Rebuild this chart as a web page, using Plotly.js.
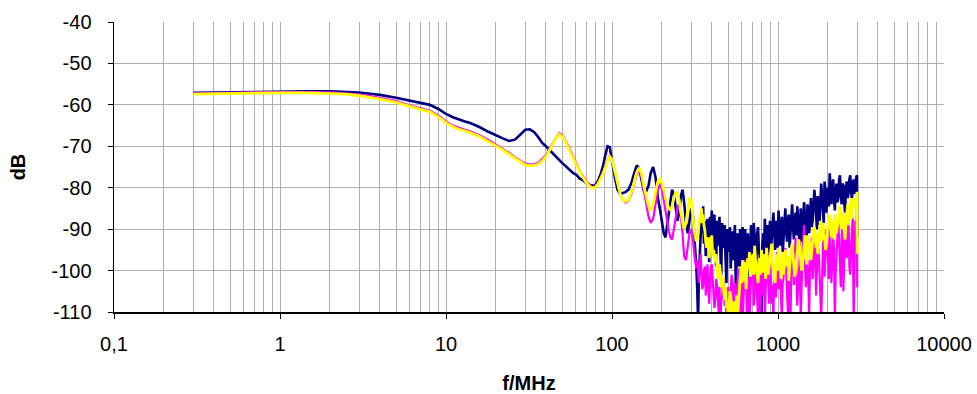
<!DOCTYPE html>
<html>
<head>
<meta charset="utf-8">
<script src="https://cdn.plot.ly/plotly-3.0.1.min.js"></script>
<style>
html,body{margin:0;padding:0;background:#fff;}
#chart{width:977px;height:394px;}
</style>
</head>
<body>
<div id="chart"></div>
<script>
// Frequencies (MHz), shared by all three series
const freqMHz = [
  0.3, 0.4, 0.5, 0.7, 1, 1.5, 2, 2.5, 3, 3.5, 4, 5, 6, 7, 8, 9, 10, 11, 12, 13, 14, 16, 18, 20, 22, 24, 26, 28, 30, 32, 34, 36, 38, 40, 42, 44, 46, 48, 50, 52, 55, 58, 61, 64, 67, 70, 73, 76, 79, 82, 85, 88, 91, 94, 97, 100, 104, 108, 112, 116, 121, 126, 131, 136, 141, 146, 151, 156, 161, 166, 171, 177, 183, 189, 195,
  200, 205, 210, 215, 220, 225, 230, 236, 242, 248, 254, 260, 266, 272, 279, 286, 293, 300, 307, 314,
  322, 326, 330, 334, 338, 342, 346, 350, 354, 358,
  363, 367, 372, 376, 381, 385, 390, 394, 399, 404,
  409, 414, 419, 424, 429, 434, 439, 444, 450, 455,
  461, 466, 472, 477, 483, 489, 495, 501, 507, 513,
  519, 525, 531, 537, 544, 550, 557, 563, 570, 577,
  584, 591, 598, 605, 612, 619, 627, 634, 642, 649,
  657, 665, 673, 681, 689, 697, 706, 714, 723, 731,
  740, 749, 758, 767, 776, 785, 795, 804, 814, 823,
  833, 843, 853, 863, 874, 884, 895, 905, 916, 927,
  938, 949, 961, 972, 984, 995, 1007, 1019, 1031, 1043,
  1056, 1068, 1081, 1094, 1107, 1120, 1134, 1147, 1161, 1175,
  1189, 1203, 1217, 1231, 1246, 1261, 1276, 1291, 1307, 1322,
  1338, 1354, 1370, 1386, 1403, 1420, 1437, 1454, 1471, 1488,
  1506, 1524, 1542, 1560, 1579, 1598, 1617, 1636, 1656, 1676,
  1696, 1716, 1736, 1757, 1778, 1799, 1821, 1842, 1864, 1886,
  1909, 1932, 1955, 1978, 2002, 2025, 2049, 2073, 2098, 2123,
  2149, 2174, 2200, 2226, 2253, 2280, 2307, 2334, 2362, 2390,
  2419, 2448, 2477, 2506, 2536, 2566, 2597, 2628, 2659, 2691,
  2723, 2755, 2788, 2821, 2855, 2889, 2923, 2958, 2993, 3000
];

// Series 1 (navy)
const navyDb = [
  -57.1, -57.0, -57.0, -56.9, -56.8, -56.7, -56.7, -56.8, -57.0, -57.3, -57.6, -58.3, -59.0, -59.5, -60.0, -61.0, -62.2, -63.0, -63.6, -64.0, -64.4, -65.4, -66.5, -67.4, -68.1, -68.7, -68.4, -67.2, -66.0, -65.9, -66.6, -67.8, -69.2, -70.0, -70.9, -71.8, -72.4, -73.3, -74.0, -74.6, -75.5, -76.4, -76.9, -77.8, -78.2, -78.9, -79.3, -79.5, -79.4, -78.5, -77.0, -75.0, -72.3, -70.0, -70.2, -73.5, -77.5, -80.5, -81.5, -81.3, -81.0, -80.4, -78.8, -76.5, -74.6, -75.5, -78.5, -81.0, -80.8, -79.5, -76.5, -75.0, -77.5, -82.5, -85.5,
  -88.0, -91.0, -92.0, -89.0, -85.0, -82.0, -80.5, -81.5, -85.5, -88.0, -86.0, -82.0, -80.5, -83.5, -88.5, -91.0, -88.0, -85.0, -86.5, -92.0,
  -99.0, -104, -112, -101, -96.0, -90.5, -87.0, -91.0, -84.5, -93.5,
  -88.0, -96.5, -93.0, -87.5, -91.0, -98.0, -87.0, -92.5, -85.5, -95.0,
  -90.0, -86.5, -93.5, -99.0, -88.0, -94.0, -91.5, -87.0, -96.0, -101.0,
  -88.5, -94.5, -92.5, -89.0, -97.0, -103.0, -90.0, -95.5, -94.0, -89.5,
  -99.5, -95.0, -90.5, -97.5, -93.5, -89.0, -104.0, -96.5, -91.0, -99.0,
  -96.0, -90.0, -100.5, -93.0, -89.5, -98.5, -94.5, -90.0, -97.0, -103.5,
  -91.0, -95.5, -102.5, -93.0, -89.0, -97.0, -95.0, -88.5, -92.0, -99.5,
  -98.5, -91.0, -89.5, -95.0, -96.5, -103, -112, -94.0, -91.0, -97.5,
  -87.5, -93.0, -95.5, -89.0, -98.0, -92.5, -88.0, -96.0, -93.5, -89.0,
  -86.0, -91.5, -95.0, -88.0, -89.5, -94.5, -85.5, -90.0, -94.0, -89.0,
  -87.0, -95.5, -91.5, -86.0, -85.0, -90.5, -93.0, -88.0, -86.5, -94.5,
  -90.0, -87.0, -84.0, -89.0, -92.5, -88.5, -86.0, -91.5, -84.5, -87.5,
  -91.0, -95.0, -85.0, -88.0, -93.0, -86.5, -83.5, -87.0, -89.5, -93.5,
  -84.0, -86.0, -91.0, -85.5, -82.5, -89.5, -88.0, -84.5, -80.5, -83.0,
  -86.5, -90.0, -82.0, -85.0, -89.0, -83.5, -79.0, -82.0, -84.5, -88.5,
  -78.5, -81.0, -86.0, -83.0, -80.0, -84.5, -76.5, -80.0, -84.0, -79.5,
  -78.0, -82.5, -85.5, -80.5, -79.0, -83.5, -82.5, -78.0, -77.0, -81.5,
  -84.0, -79.0, -79.5, -83.5, -86.0, -80.0, -78.5, -82.5, -81.5, -78.0,
  -77.0, -80.5, -83.0, -79.0, -78.0, -81.5, -80.5, -77.5, -77.0, -92.0
];

// Series 2 (magenta)
const magentaDb = [
  -57.2, -57.2, -57.1, -57.0, -56.9, -56.9, -57.0, -57.2, -57.5, -57.9, -58.3, -59.1, -60.1, -60.8, -61.4, -62.6, -64.0, -65.0, -65.6, -66.0, -66.4, -67.4, -68.5, -69.6, -70.6, -71.6, -72.6, -73.5, -74.2, -74.4, -74.3, -74.0, -73.2, -72.2, -70.6, -69.2, -67.8, -66.8, -67.3, -68.3, -70.2, -72.3, -74.3, -76.0, -77.3, -78.5, -79.3, -79.9, -79.7, -79.0, -77.9, -76.5, -75.0, -73.3, -72.3, -73.0, -75.8, -78.8, -81.5, -83.0, -83.6, -83.0, -81.5, -79.0, -76.8, -75.8, -77.5, -81.0, -84.5, -87.0, -88.5, -87.5, -84.0, -80.5, -79.0,
  -80.5, -83.0, -86.0, -88.5, -90.5, -92.0, -92.5, -90.0, -86.5, -84.5, -84.0, -86.5, -91.0, -96.5, -97.5, -94.0, -91.0, -90.0, -92.5, -96.5,
  -99.5, -97.5, -101.0, -103.0, -98.0, -96.0, -100.5, -104.5, -103.5, -100.0,
  -99.0, -106.0, -101.5, -98.5, -105.0, -108.0, -102.0, -99.0, -98.5, -102.5,
  -104.0, -109.0, -107.0, -102.0, -103.5, -106.5, -110.0, -104.0, -112, -107.5,
  -106.0, -101.5, -103.0, -108.5, -105.5, -112, -109.0, -104.0, -112, -106.5,
  -105.0, -101.0, -102.5, -109.5, -107.5, -103.0, -112, -106.5, -104.0, -99.5,
  -101.0, -110.0, -108.0, -102.5, -112, -105.5, -103.0, -97.5, -99.5, -112,
  -107.0, -101.5, -112, -104.0, -101.5, -96.5, -98.0, -108.5, -105.5, -98.5,
  -100.0, -106.0, -112, -99.5, -103.5, -110.0, -97.0, -101.0, -106.0, -99.5,
  -112, -104.5, -99.0, -95.5, -102.5, -108.0, -96.0, -100.0, -108.0, -103.5,
  -112, -98.5, -100.0, -106.5, -95.5, -99.5, -104.5, -101.0, -98.0, -107.0,
  -112, -103.0, -101.5, -97.5, -94.5, -100.5, -106.5, -110.0, -99.0, -103.5,
  -112, -100.5, -97.0, -95.0, -103.5, -99.0, -92.0, -101.0, -108.5, -104.0,
  -99.5, -96.0, -112, -101.5, -96.5, -92.5, -89.0, -98.0, -104.0, -100.0,
  -97.5, -103.5, -110.0, -99.0, -95.0, -92.0, -102.0, -98.5, -93.0, -96.5,
  -106.0, -100.0, -91.0, -95.5, -99.0, -105.5, -112, -97.5, -94.0, -90.5,
  -101.5, -96.0, -90.0, -93.5, -97.0, -102.0, -88.5, -94.0, -103.0, -97.5,
  -90.5, -95.0, -112, -100.5, -95.5, -91.0, -87.5, -93.0, -99.0, -104.0,
  -92.0, -88.5, -105.0, -97.0, -89.0, -94.0, -97.0, -91.5, -86.5, -99.0,
  -101.0, -94.5, -91.0, -87.0, -112, -96.0, -88.0, -92.0, -85.5, -104.0
];

// Series 3 (yellow)
const yellowDb = [
  -57.4, -57.3, -57.3, -57.2, -57.1, -57.1, -57.2, -57.4, -57.8, -58.2, -58.6, -59.4, -60.4, -61.1, -61.7, -62.9, -64.3, -65.3, -65.9, -66.3, -66.7, -67.7, -68.8, -69.9, -70.9, -71.9, -72.9, -73.8, -74.5, -74.7, -74.6, -74.3, -73.5, -72.5, -70.9, -69.5, -68.1, -67.1, -67.6, -68.6, -70.5, -72.6, -74.6, -76.3, -77.6, -78.8, -79.6, -80.1, -79.9, -79.2, -78.1, -76.7, -75.2, -73.5, -72.5, -73.2, -76.0, -79.0, -81.5, -83.0, -83.3, -82.8, -81.0, -78.6, -76.2, -75.2, -76.8, -79.8, -82.6, -84.5, -85.5, -84.0, -81.0, -78.5, -77.6,
  -79.0, -80.5, -82.5, -84.0, -85.0, -85.5, -84.5, -82.5, -81.0, -81.5, -83.0, -86.0, -88.5, -90.0, -88.5, -85.0, -82.5, -83.0, -87.0, -91.0,
  -93.0, -92.0, -91.0, -89.0, -87.5, -86.0, -85.0, -88.5, -86.5, -89.0,
  -90.5, -93.0, -94.5, -92.0, -95.0, -97.0, -92.0, -94.0, -91.5, -96.5,
  -95.0, -97.0, -98.0, -96.0, -99.5, -102.0, -101.0, -98.5, -100.5, -104.0,
  -103.0, -101.5, -105.5, -107.0, -104.0, -109.0, -107.5, -112, -109.5, -105.0,
  -106.0, -110.5, -112, -107.5, -108.0, -112, -110.5, -106.0, -112, -108.5,
  -105.0, -101.5, -99.0, -103.0, -97.5, -100.0, -102.5, -98.0, -104.5, -100.0,
  -97.0, -99.5, -95.5, -101.5, -100.5, -97.5, -96.0, -101.0, -94.0, -97.0,
  -99.5, -102.5, -103.0, -98.5, -97.0, -101.0, -95.0, -98.5, -100.5, -96.0,
  -98.0, -102.0, -94.5, -97.5, -101.0, -99.0, -97.5, -95.0, -93.5, -98.0,
  -99.0, -101.5, -103.0, -98.0, -96.0, -100.0, -94.5, -97.0, -100.5, -102.0,
  -97.5, -95.5, -101.0, -98.0, -95.0, -97.0, -99.0, -96.5, -102.5, -99.0,
  -96.0, -94.5, -93.5, -96.5, -98.5, -101.5, -100.0, -97.0, -95.5, -93.0,
  -92.5, -95.5, -97.5, -100.0, -99.0, -96.0, -94.0, -91.5, -96.5, -98.5,
  -91.5, -94.0, -95.0, -93.0, -97.5, -95.5, -92.0, -90.0, -89.5, -93.5,
  -94.5, -91.0, -96.0, -94.0, -90.5, -88.0, -93.0, -91.0, -88.5, -92.5,
  -91.5, -95.0, -94.0, -90.0, -89.0, -86.5, -87.0, -90.0, -92.0, -88.0,
  -89.5, -92.5, -86.5, -88.5, -91.0, -89.0, -88.0, -85.0, -84.5, -88.0,
  -90.0, -86.0, -87.0, -90.5, -92.5, -88.5, -86.0, -84.0, -89.0, -86.5,
  -84.0, -82.5, -87.5, -85.5, -82.5, -84.0, -85.0, -83.0, -81.0, -96.0
];

const xTickVals = [0.1, 1, 10, 100, 1000, 10000];
const xTickText = ["0,1", "1", "10", "100", "1000", "10000"];
const yTickVals = [-110, -100, -90, -80, -70, -60, -50, -40];
const yTickText = ["-110", "-100", "-90", "-80", "-70", "-60", "-50", "-40"];

const FONT = "Liberation Sans, Arial, sans-serif";
const GRID = "rgb(175,175,175)";

const traces = [
  {x: freqMHz, y: navyDb, type: "scatter", mode: "lines", line: {color: "#000080", width: 2.6}},
  {x: freqMHz, y: magentaDb, type: "scatter", mode: "lines", line: {color: "#FF00FF", width: 2.2}},
  {x: freqMHz, y: yellowDb, type: "scatter", mode: "lines", line: {color: "#FFFF00", width: 2.8}}
];

const layout = {
  width: 977, height: 394,
  margin: {l: 114, r: 33, t: 22, b: 82},
  paper_bgcolor: "#ffffff", plot_bgcolor: "#ffffff",
  showlegend: false,
  font: {family: FONT, size: 20, color: "#000"},
  xaxis: {
    type: "log", range: [-1, 4],
    tickvals: xTickVals, ticktext: xTickText,
    ticks: "outside", ticklen: 5, tickcolor: "#000", tickwidth: 1,
    ticklabelstandoff: 8,
    showline: true, linecolor: "#000", linewidth: 1.5, mirror: false,
    showgrid: true, gridcolor: GRID, gridwidth: 1,
    minor: {dtick: "D1", showgrid: true, gridcolor: GRID, gridwidth: 1, ticks: ""},
    zeroline: false,
    tickfont: {family: FONT, size: 20, color: "#000"},
    title: {text: "<b>f/MHz</b>", font: {family: FONT, size: 20, color: "#000"}, standoff: 26}
  },
  yaxis: {
    range: [-110, -40],
    tickvals: yTickVals, ticktext: yTickText,
    ticks: "outside", ticklen: 5, tickcolor: "#000", tickwidth: 1,
    ticklabelstandoff: 12,
    showline: true, linecolor: "#000", linewidth: 1.5, mirror: false,
    showgrid: true, gridcolor: GRID, gridwidth: 1,
    zeroline: false,
    tickfont: {family: FONT, size: 20, color: "#000"},
    title: {text: "<b>dB</b>", font: {family: FONT, size: 20, color: "#000"}, standoff: 20}
  }
};

Plotly.newPlot("chart", traces, layout, {staticPlot: true, displayModeBar: false});
</script>
</body>
</html>
